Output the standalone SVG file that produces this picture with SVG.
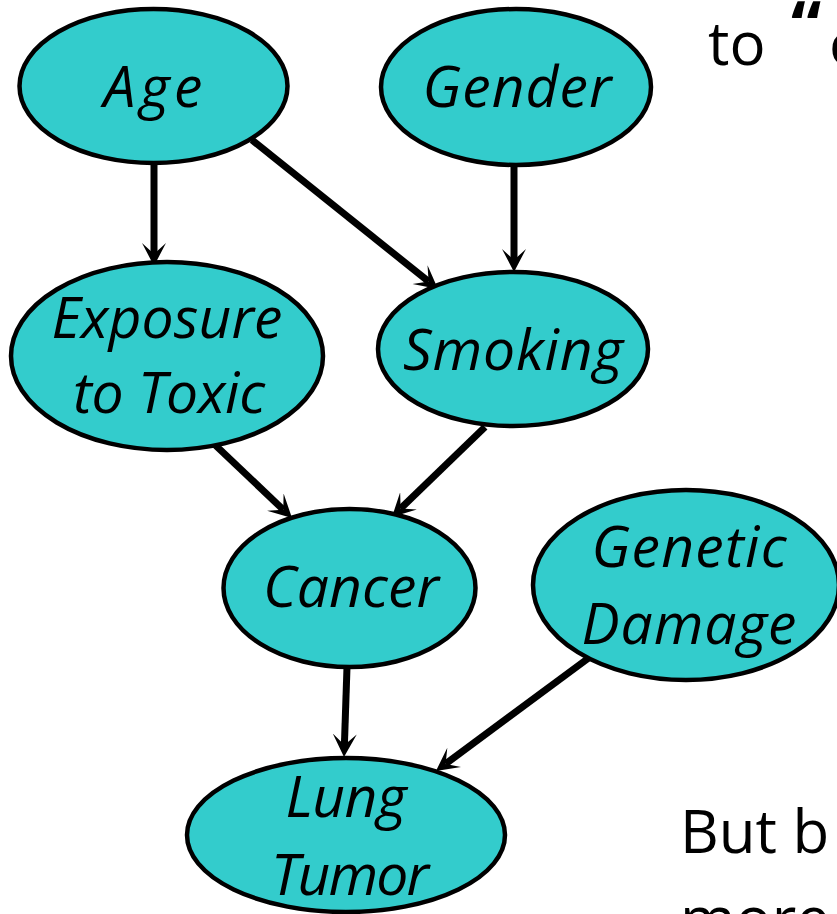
<svg xmlns="http://www.w3.org/2000/svg" width="837" height="914" viewBox="0 0 837 914">
<style>
.node ellipse{fill:#33CCCC;stroke:#000;stroke-width:4.5}
.node text{font-family:"Open Sans","Noto Sans","DejaVu Sans",sans-serif;font-style:italic;font-size:57px;fill:#000;text-anchor:middle}
.edges line{stroke:#000;stroke-width:7;marker-end:url(#arr)}
.side{font-family:"Open Sans","Noto Sans","DejaVu Sans",sans-serif;font-size:60px;fill:#000}
</style>
<defs>
<marker id="arr" markerUnits="userSpaceOnUse" markerWidth="30" markerHeight="30" refX="11" refY="12" orient="auto">
<path d="M0,0 L23,12 L0,24 L11,12 Z" fill="#000"/>
</marker>
</defs>
<rect width="837" height="914" fill="#fff"/>
<g class="edges">
<line x1="154" y1="163" x2="154" y2="254"/>
<line x1="252" y1="140" x2="428.6" y2="281.5"/>
<line x1="514" y1="165" x2="514" y2="260"/>
<line x1="212" y1="442" x2="283.3" y2="509.7"/>
<line x1="485" y1="427" x2="400.6" y2="508.6"/>
<line x1="347" y1="667" x2="344.4" y2="745"/>
<line x1="590" y1="657" x2="445.6" y2="763.9"/>
</g>
<g id="age" class="node"><ellipse cx="153.5" cy="86" rx="134" ry="77"/><text x="153" y="107" textLength="99">Age</text></g>
<g id="gender" class="node"><ellipse cx="516" cy="87" rx="135" ry="78"/><text x="517" y="107" textLength="189">Gender</text></g>
<g id="exposure" class="node"><ellipse cx="167" cy="356" rx="156" ry="94"/><text x="167" y="338" textLength="231">Exposure</text><text x="169" y="413" textLength="192">to Toxic</text></g>
<g id="smoking" class="node"><ellipse cx="513" cy="349" rx="135" ry="77"/><text x="513" y="370" textLength="220">Smoking</text></g>
<g id="cancer" class="node"><ellipse cx="349.5" cy="588" rx="126" ry="79"/><text x="351" y="607" textLength="176">Cancer</text></g>
<g id="genetic" class="node"><ellipse cx="686" cy="585" rx="153" ry="95"/><text x="689" y="567" textLength="195">Genetic</text><text x="689" y="644" textLength="215">Damage</text></g>
<g id="lung" class="node"><ellipse cx="346" cy="835" rx="159" ry="77"/><text x="346" y="817" textLength="121">Lung</text><text x="350" y="895" textLength="158">Tumor</text></g>
<text class="side" x="708" y="65">to <tspan x="791" y="50" font-size="68" font-weight="bold">“</tspan><tspan x="829" y="65">c</tspan></text>
<text class="side" x="680" y="853">But b</text>
<text class="side" x="680" y="940">more</text>
</svg>
